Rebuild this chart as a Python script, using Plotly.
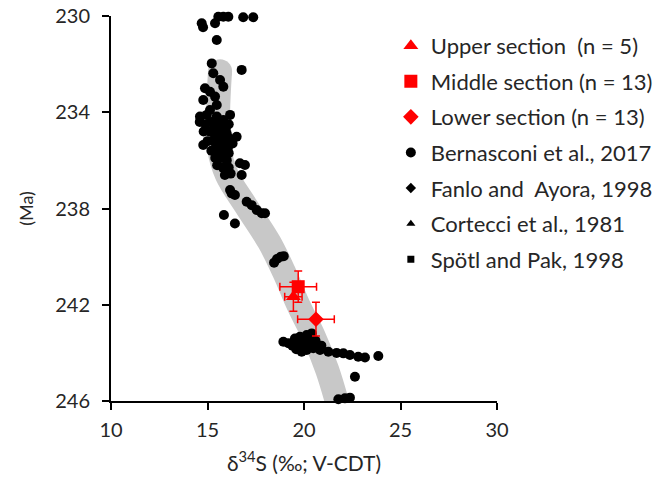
import plotly.graph_objects as go

# Bernasconi et al., 2017 (black circles)
bern_x = [14.70, 14.77, 15.39, 15.56, 15.82, 16.08, 16.85, 17.37, 15.48,
          15.22, 16.77, 15.30, 15.65, 15.82, 14.87, 15.13, 15.39, 14.78, 15.48, 15.13,
          14.61, 14.96, 15.48, 16.17, 15.82,
          14.6, 14.9, 15.2, 15.5, 15.8, 16.1, 14.8, 15.1, 15.4, 15.7, 16.0, 16.51,
          14.78, 15.0, 15.3, 15.6, 15.9, 16.3, 15.2, 15.5, 15.8, 16.1, 15.4, 15.7,
          16.0, 16.68, 16.94, 15.5, 15.8, 16.1, 15.9, 16.77, 16.2,
          15.35, 15.65, 15.95, 15.55, 15.85, 16.15, 15.45, 15.75, 16.05, 15.6, 15.9,
          16.17, 16.25, 16.42, 17.03, 17.29, 17.55, 17.81, 17.98, 15.85, 16.42,
          18.45, 18.6, 18.8, 18.95,
          18.93, 19.19, 19.53, 19.79, 20.14, 20.40, 19.4, 19.7, 20.0, 20.3, 20.6,
          19.88, 20.14, 20.48, 20.83, 21.26, 21.69, 22.04, 22.38, 22.81, 23.16, 23.85,
          20.9, 19.6, 22.64, 21.78, 22.12, 22.38]
bern_y = [230.30, 230.47, 230.30, 230.03, 230.03, 230.03, 230.05, 230.05, 231.0,
          231.97, 232.24, 232.38, 232.66, 232.94, 233.0, 233.15, 233.35, 233.49, 233.70, 233.91,
          234.18, 234.11, 234.18, 234.11, 234.32,
          234.4, 234.5, 234.4, 234.5, 234.6, 234.5, 234.8, 234.8, 234.9, 234.9, 234.9, 235.02,
          235.36, 235.2, 235.2, 235.3, 235.3, 235.3, 235.6, 235.6, 235.6, 235.7, 235.9, 235.9,
          236.0, 236.12, 236.19, 236.2, 236.3, 236.3, 236.61, 236.61, 236.55,
          234.65, 234.7, 234.7, 235.05, 235.1, 235.1, 235.45, 235.45, 235.5, 235.75, 235.8,
          237.23, 237.37, 237.44, 237.72, 237.86, 238.06, 238.2, 238.2, 238.27, 238.62,
          240.25, 240.1, 240.0, 239.98,
          243.54, 243.6, 243.4, 243.33, 243.26, 243.19, 243.7, 243.65, 243.6, 243.55, 243.5,
          243.95, 243.88, 243.81, 243.88, 243.95, 244.0, 244.02, 244.09, 244.16, 244.19, 244.13,
          243.7, 243.85, 244.99, 245.93, 245.89, 245.86]

# Other literature data (hidden within the clusters)
fanlo_x = [20.2, 20.7]
fanlo_y = [243.5, 243.7]
cortecci_x = [15.3]
cortecci_y = [235.0]
spotl_x = [15.6]
spotl_y = [235.4]

# This study
upper_x, upper_y, upper_ex, upper_ey = [19.45], [241.67], [0.45], [0.6]
middle_x, middle_y, middle_ex, middle_ey = [19.7], [241.25], [0.95], [0.65]
lower_x, lower_y, lower_ex, lower_ey = [20.62], [242.6], [0.95], [0.7]

# Grey trend band (centre line)
band_x = [15.65, 15.55, 15.6, 16.0, 17.0, 18.2, 19.0, 19.7, 20.5, 21.2, 21.8]
band_y = [232.3, 234.0, 235.5, 236.6, 237.9, 239.4, 240.7, 242.0, 243.3, 244.7, 246.3]

x_ticks = [10, 15, 20, 25, 30]
y_ticks = [230, 234, 238, 242, 246]

FONT = "Lato"
TXT = "#262626"
RED = "#ff0000"
GREY = "#c8c8c8"

fig = go.Figure()
fig.add_trace(go.Scatter(x=band_x, y=band_y, mode="lines", line=dict(color=GREY, width=24, shape="spline"),
                         showlegend=False, hoverinfo="skip"))
fig.add_trace(go.Scatter(x=band_x[:1], y=band_y[:1], mode="markers",
                         marker=dict(color=GREY, size=24), showlegend=False, hoverinfo="skip"))

fig.add_trace(go.Scatter(x=fanlo_x, y=fanlo_y, mode="markers", name="Fanlo and  Ayora, 1998",
                         marker=dict(symbol="diamond", color="black", size=8), legendrank=5,
                         legendgroup="e", cliponaxis=False))
fig.add_trace(go.Scatter(x=cortecci_x, y=cortecci_y, mode="markers", name="Cortecci et al., 1981",
                         marker=dict(symbol="triangle-up", color="black", size=8), legendrank=6,
                         legendgroup="f", cliponaxis=False))
fig.add_trace(go.Scatter(x=spotl_x, y=spotl_y, mode="markers", name="Spötl and Pak, 1998",
                         marker=dict(symbol="square", color="black", size=7), legendrank=7,
                         legendgroup="g", cliponaxis=False))
fig.add_trace(go.Scatter(x=bern_x, y=bern_y, mode="markers", name="Bernasconi et al., 2017",
                         marker=dict(symbol="circle", color="black", size=10), legendrank=4,
                         legendgroup="d", cliponaxis=False))

err = dict(type="data", color=RED, thickness=1.5, width=4)
fig.add_trace(go.Scatter(x=upper_x, y=upper_y, mode="markers", name="Upper section  (n = 5)",
                         marker=dict(symbol="triangle-up", color=RED, size=13),
                         error_x=dict(array=upper_ex, **err), error_y=dict(array=upper_ey, **err),
                         legendrank=1, legendgroup="a"))
fig.add_trace(go.Scatter(x=middle_x, y=middle_y, mode="markers", name="Middle section (n = 13)",
                         marker=dict(symbol="square", color=RED, size=13),
                         error_x=dict(array=middle_ex, **err), error_y=dict(array=middle_ey, **err),
                         legendrank=2, legendgroup="b"))
fig.add_trace(go.Scatter(x=lower_x, y=lower_y, mode="markers", name="Lower section (n = 13)",
                         marker=dict(symbol="diamond", color=RED, size=12),
                         error_x=dict(array=lower_ex, **err), error_y=dict(array=lower_ey, **err),
                         legendrank=3, legendgroup="c"))

fig.update_layout(
    width=659, height=469,
    margin=dict(l=103, r=170, t=8, b=76),
    paper_bgcolor="white", plot_bgcolor="white",
    font=dict(family=FONT, size=18, color=TXT),
    legend=dict(x=0.725, y=0.977, xanchor="left", yanchor="top", font=dict(size=22, color=TXT),
                tracegroupgap=4, bgcolor="rgba(0,0,0,0)", itemwidth=30),
    xaxis=dict(range=[10, 30], tickvals=x_ticks, ticks="outside", ticklen=7, tickwidth=2,
               tickcolor="black", showline=True, linecolor="black", linewidth=2, showgrid=False,
               zeroline=False, automargin=False, ticklabelstandoff=3, ticklabeloverflow="allow",
               title=dict(text="δ<sup>34</sup>S (‰; V-CDT)", standoff=16, font=dict(size=21)),
               tickfont=dict(size=20)),
    yaxis=dict(range=[246, 230], tickvals=y_ticks, ticks="outside", ticklen=7, tickwidth=2,
               tickcolor="black", showline=True, linecolor="black", linewidth=2, showgrid=False,
               zeroline=False, automargin=False, ticklabelstandoff=8, ticklabeloverflow="allow",
               title=dict(text="(Ma)", standoff=17, font=dict(size=18)), tickfont=dict(size=20)),
)

fig.write_html("out.html")
